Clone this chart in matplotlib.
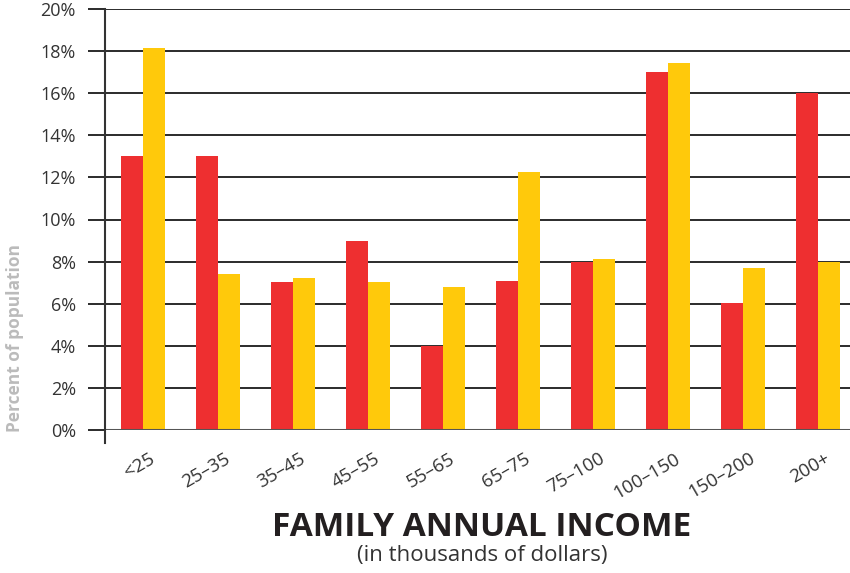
import matplotlib
matplotlib.use("Agg")
import matplotlib.pyplot as plt
import matplotlib.transforms as mtransforms
import numpy as np

categories = ["<25", "25–35", "35–45", "45–55", "55–65", "65–75", "75–100", "100–150", "150–200", "200+"]
red_values = [13.0, 13.0, 7.05, 9.0, 4.0, 7.1, 8.0, 17.0, 6.05, 16.0]
yellow_values = [18.15, 7.4, 7.2, 7.05, 6.8, 12.25, 8.1, 17.45, 7.7, 8.0]
ytick_values = [0, 2, 4, 6, 8, 10, 12, 14, 16, 18, 20]
ytick_labels = [f"{v}%" for v in ytick_values]

plt.rcParams['font.family'] = ['Open Sans', 'DejaVu Sans']

fig = plt.figure(figsize=(8.5, 5.73), dpi=100)
ax = fig.add_axes([105/850, 1 - 430/573, 1 - 105/850, (430 - 9)/573])

x = np.arange(len(categories))
w = 0.293
ax.bar(x - w/2, red_values, width=w, color="#EE2F30", zorder=3)
ax.bar(x + w/2, yellow_values, width=w, color="#FFC90B", zorder=3)

ax.set_xlim(-0.507, 9.43)
ax.set_ylim(0, 20)

for v in ytick_values:
    if v == 0:
        continue
    ax.axhline(v, color="#1a1a1a", lw=1.3, zorder=1)
ax.axhline(0, color="#555555", lw=2.2, zorder=4)

ax.set_yticks(ytick_values)
ax.set_yticklabels(ytick_labels, fontsize=13, color="#333333")
ax.tick_params(axis='y', length=12, width=1.3, color="#1a1a1a", pad=9)

ax.set_xticks(x)
ax.set_xticklabels(categories, rotation=30, ha='right', rotation_mode='anchor',
                   fontsize=13.5, color="#333333")
ax.tick_params(axis='x', length=0, pad=14)
offset = mtransforms.ScaledTranslation(6/100, 0, fig.dpi_scale_trans)
for lab in ax.get_xticklabels():
    lab.set_transform(lab.get_transform() + offset)

for s in ["top", "right", "bottom", "left"]:
    ax.spines[s].set_visible(False)
ax.plot([0, 0], [-0.03, 1.0], transform=ax.transAxes, color="#333333",
        lw=1.5, clip_on=False, zorder=5)

fig.text(15/850, 1 - 338/573, "Percent of population", rotation=90,
         ha='center', va='center', fontsize=12.5, color="#BBBBBB", fontweight='bold')
fig.text(482/850, 1 - 527/573, "FAMILY ANNUAL INCOME", ha='center', va='center',
         fontsize=24, fontweight='bold', color="#231F20")
fig.text(482/850, 1 - 556/573, "(in thousands of dollars)", ha='center', va='center',
         fontsize=16, color="#333333")

fig.savefig("out.png", dpi=100)
